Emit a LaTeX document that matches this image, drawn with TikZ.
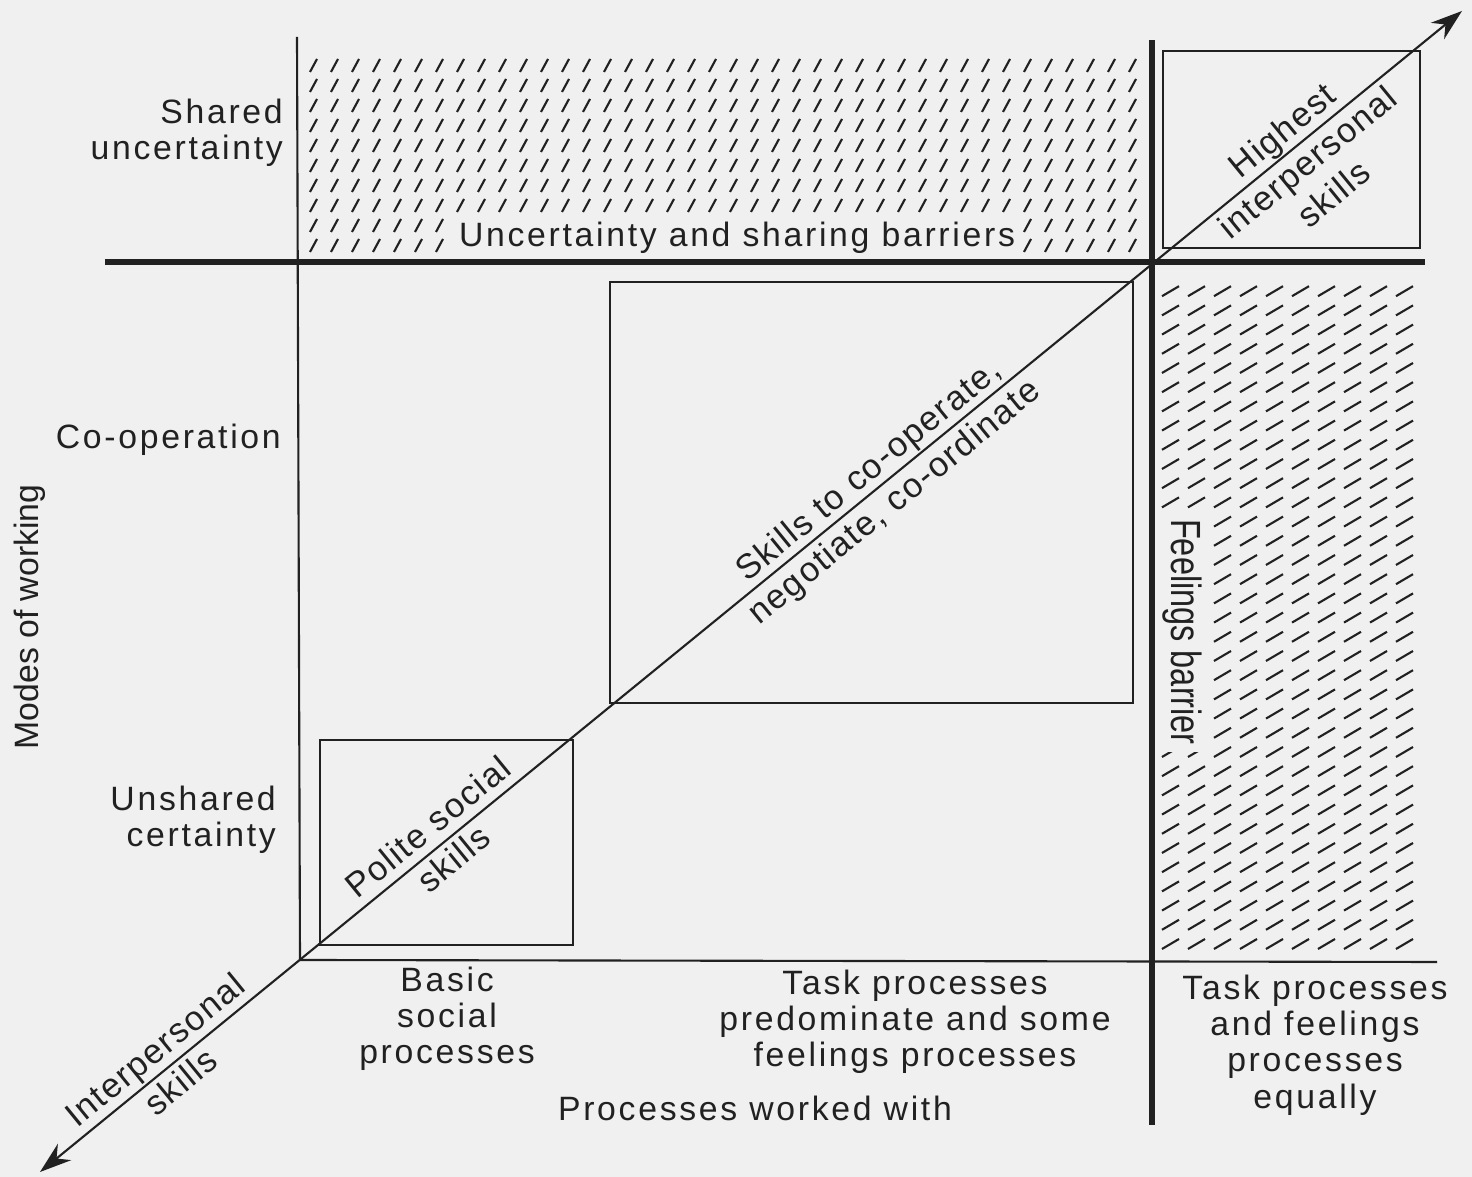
\documentclass[tikz,border=0pt]{standalone}
\usepackage{fontspec}
\setmainfont{Liberation Sans}[LetterSpace=8]
\newfontfamily\narrowfont{Liberation Sans}[FakeStretch=0.77]
\newfontfamily\plainfont{Liberation Sans}
\newfontfamily\slantfont{Liberation Sans}[LetterSpace=4.5]
\usetikzlibrary{arrows.meta}
\definecolor{paper}{gray}{0.94}
\definecolor{ink}{gray}{0.13}

\begin{document}
\begin{tikzpicture}
[x=0.01cm,y=-0.01cm,
 font=\fontsize{9.6}{10.3}\selectfont, text=ink,
 thin/.style={draw=ink,line width=0.6pt},
 thick/.style={draw=ink,line width=1.8pt},
 hatch/.style={draw=ink,line width=0.6pt},
 lbl/.style={inner sep=1pt,align=center},
 diag/.style={lbl,rotate=39.23,anchor=base,font=\slantfont\fontsize{9.8}{11.6}\selectfont},
 gap/.style={lbl,fill=paper,inner sep=2pt}]
\path[use as bounding box,fill=paper] (0,0) rectangle (1472,1177);
% hatched barriers
\foreach \i in {0,...,39} \foreach \j in {0,...,9}
  \draw[hatch] ({310+\i*21},{252-\j*20}) -- ++(7,-13);
\foreach \i in {0,...,9} \foreach \j in {0,...,34}
  \draw[hatch] ({1162+\i*26},{949-\j*19.2}) -- ++(17,-10);
\node[gap] (barrier) at (737,238) {Uncertainty and sharing barriers};
\node[gap,rotate=-90,font=\narrowfont\fontsize{12}{14}\selectfont] (feel) at (1182,632) {Feelings barrier};
% axes and barrier lines
\coordinate (o) at (300,960);
\coordinate (sw) at (40,1172);
\coordinate (ne) at (1462,11);
\coordinate (ytop) at (297,37);
\coordinate (xend) at (1437,962);
\coordinate (bl) at (105,262);
\coordinate (br) at (1425,262);
\coordinate (vt) at (1152,40);
\coordinate (vb) at (1152,1125);
\draw[thin] (ytop) -- (o) -- (xend);
\draw[thick] (bl) -- (br);
\draw[thick] (vt) -- (vb);
\draw[thin,{Stealth[length=9pt,width=6pt]}-{Stealth[length=9pt,width=6pt]}] (sw) -- (ne);
% skill boxes
\draw[thin] (320,945) rectangle (573,740);
\draw[thin] (610,703) rectangle (1133,282);
\draw[thin] (1163,248) rectangle (1420,51);
\node[lbl,align=right,anchor=east] (shared) at (287,133) {Shared\\uncertainty};
\node[lbl,anchor=east] (coop) at (285,440) {Co-operation};
\node[lbl,align=right,anchor=east] (unshared) at (280,820) {Unshared\\certainty};
\node[lbl,rotate=90,font=\plainfont\fontsize{9.6}{10.3}\selectfont] (modes) at (30,617) {Modes of working};
\node[diag] (polite) at (461,868) {Polite social\\skills};
\node[diag] (coord) at (901,510) {Skills to co-operate,\\negotiate, co-ordinate};
\node[diag] (high) at (1341,203) {Highest\\interpersonal\\skills};
\node[diag] (inter) at (188,1091) {Interpersonal\\skills};
\node[lbl] (basic) at (447,1019) {Basic\\social\\processes};
\node[lbl] (task) at (915,1022) {Task processes\\predominate and some\\feelings processes};
\node[lbl] (equal) at (1315,1045) {Task processes\\and feelings\\processes\\equally};
\node[lbl] (worked) at (755,1108) {Processes worked with};
\end{tikzpicture}
\end{document}
